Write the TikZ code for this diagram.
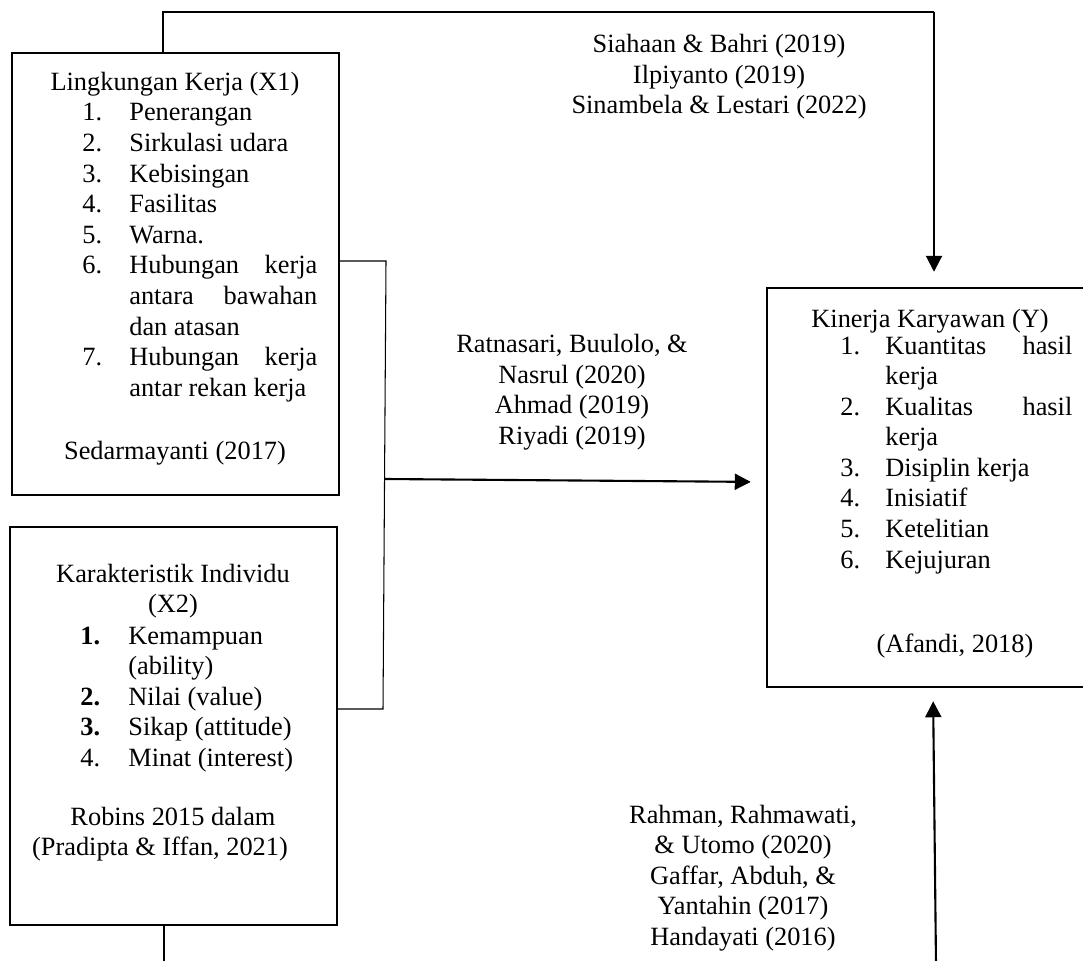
\documentclass[tikz,border=0pt]{standalone}
\usepackage{fontspec}
\setmainfont{Liberation Serif}
\usepackage{array}
\usetikzlibrary{arrows.meta,positioning,calc}
\newcommand{\txt}{\fontsize{15}{17.4}\selectfont}
\tikzset{
  frm/.style={draw, line width=1.4pt, inner sep=0pt},
  lnk/.style={line width=0.6pt},
  flowarr/.style={-{Triangle[length=3.2mm, width=3.2mm]}, line width=1.2pt},
  ttl/.style={font=\txt, inner sep=0pt, anchor=base},
  lst/.style={font=\txt, inner sep=0pt, anchor=base west},
  ref/.style={font=\txt, align=center, inner sep=0pt},
}

\begin{document}
\begin{tikzpicture}[x=0.2mm, y=-0.2mm]
    \useasboundingbox (0,0) rectangle (1083,960);
    % --- boxes
    \node[frm, minimum width=65.4mm, minimum height=88.4mm] (x1) at (175.5,274) {};
    \node[frm, minimum width=65.4mm, minimum height=79.6mm] (x2) at (173.5,726) {};
    \node[frm, minimum width=64.2mm, minimum height=79.8mm] (y) at (927.5,487.5) {};
    % --- X1
    \node[ttl] (x1t) at (175,91) {Lingkungan Kerja (X1)};
    \node[lst] (x1l) at (82,121) {\begin{tabular}[t]{@{}p{9.4mm}@{}p{37.6mm}@{}}
      1. & Penerangan\\
      2. & Sirkulasi udara\\
      3. & Kebisingan\\
      4. & Fasilitas\\
      5. & Warna.\\
      6. & Hubungan\hfill kerja\\
         & antara\hfill bawahan\\
         & dan atasan\\
      7. & Hubungan\hfill kerja\\
         & antar rekan kerja
    \end{tabular}};
    \node[ttl] (x1s) at (175,459) {Sedarmayanti (2017)};
    % --- X2
    \node[ref] (x2t) at (173,591) {Karakteristik Individu\\(X2)};
    \node[lst] (x2l) at (80,644) {\begin{tabular}[t]{@{}p{9.6mm}@{}p{40mm}@{}}
      \textbf{1.} & Kemampuan\\
                  & (ability)\\
      \textbf{2.} & Nilai (value)\\
      \textbf{3.} & Sikap (attitude)\\
      4.          & Minat (interest)
    \end{tabular}};
    \node[ref] (x2s) at (173,834) {Robins 2015 dalam\\(Pradipta \& Iffan, 2021)\hspace*{5.2mm}};
    % --- Y
    \node[ttl] (yt) at (930,327) {Kinerja Karyawan (Y)};
    \node[lst] (yl) at (840,354) {\begin{tabular}[t]{@{}p{9mm}@{}p{37.4mm}@{}}
      1. & Kuantitas\hfill hasil\\
         & kerja\\
      2. & Kualitas\hfill hasil\\
         & kerja\\
      3. & Disiplin kerja\\
      4. & Inisiatif\\
      5. & Ketelitian\\
      6. & Kejujuran
    \end{tabular}};
    \node[ttl] (ys) at (955,652) {(Afandi, 2018)};
    % --- references on the links
    \node[ref] (r1) at (719,77) {Siahaan \& Bahri (2019)\\Ilpiyanto (2019)\\Sinambela \& Lestari (2022)};
    \node[ref] (r2) at (572,392) {Ratnasari, Buulolo, \&\\Nasrul (2020)\\Ahmad (2019)\\Riyadi (2019)};
    \node[ref] (r3) at (743,878) {Rahman, Rahmawati,\\\& Utomo (2020)\\Gaffar, Abduh, \&\\Yantahin (2017)\\Handayati (2016)};
    % --- links
    \coordinate (tl) at (163,12);
    \coordinate (tr) at (934,12);
    \draw[lnk] (x1.north -| tl) -- (tl) -- (tr);
    \draw[flowarr, shorten >=3mm] (tr) -- (y.north -| tr);
    \coordinate (b1) at (386,261);
    \coordinate (b2) at (383,709);
    \draw[lnk] (x1.east |- b1) -- (b1) -- (b2) -- (x2.east |- b2);
    \coordinate (m0) at (385,479);
    \draw[flowarr, shorten >=3mm] (m0) -- (y.west |- 0,482);
    \coordinate (bl) at (164,965);
    \draw[lnk] (x2.south -| bl) -- (bl);
    \coordinate (br) at (936,965);
    \draw[flowarr, shorten >=2.6mm] (br) -- (y.south -| 933,0);
\end{tikzpicture}
\end{document}
